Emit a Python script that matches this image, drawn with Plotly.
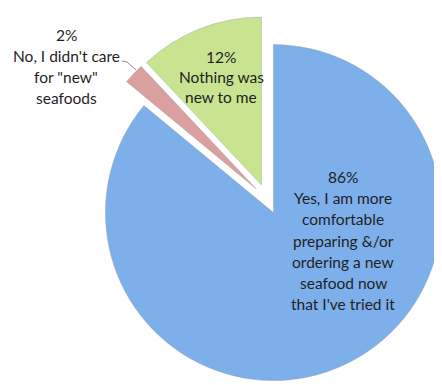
import plotly.graph_objects as go

# ---- data ----
labels = [
    "Yes, I am more\ncomfortable\npreparing &/or\nordering a new\nseafood now\nthat I've tried it",
    "No, I didn't care\nfor \"new\"\nseafoods",
    "Nothing was\nnew to me",
]
values = [86, 2, 12]
colors = ["#7DAFEB", "#DAA0A0", "#C8E491"]

W, H = 442, 385
PULL = 0.0893

fig = go.Figure(
    go.Pie(
        labels=[l.split("\n")[0] for l in labels],
        values=values,
        sort=False,
        direction="clockwise",
        rotation=0,
        pull=[PULL] * len(values),
        marker=dict(colors=colors, line=dict(color="rgba(150,150,150,0.6)", width=0.6)),
        textinfo="none",
        hoverinfo="label+percent",
        showlegend=False,
        domain=dict(x=[76 / W, 1.0], y=[(H - 374) / H, (H - 8) / H]),
    )
)

# label placement (pixel positions of first line, line spacing)
label_pos = [(335, 169, 21.2), (58, 27, 21.0), (213, 49, 20.0)]
total = sum(values)
ann = []
for lab, v, (cx, y0, sp) in zip(labels, values, label_pos):
    lines = [f"{round(100 * v / total)}%"] + lab.split("\n")
    for i, t in enumerate(lines):
        ann.append(dict(
            x=cx / W, y=1 - (y0 + i * sp) / H, xref="paper", yref="paper",
            text=t, showarrow=False, xanchor="center", yanchor="middle",
            font=dict(family="Lato", size=15.5, color="#1f1f1f"),
        ))

# leader line for small slice
pts = [(114, 53), (119, 54), (128, 62)]
path = "M " + " L ".join(f"{x / W},{1 - y / H}" for x, y in pts)
fig.update_layout(
    width=W, height=H,
    margin=dict(l=0, r=0, t=0, b=0),
    paper_bgcolor="white", plot_bgcolor="white",
    annotations=ann,
    shapes=[dict(type="path", path=path, xref="paper", yref="paper",
                 line=dict(color="#8c8c8c", width=1))],
)

fig.write_html("out.html")
